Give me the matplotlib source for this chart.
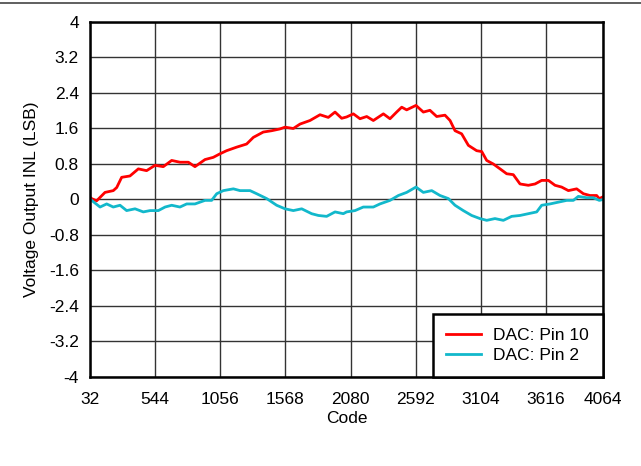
import numpy as np
import matplotlib
matplotlib.use("Agg")
import matplotlib.pyplot as plt
from matplotlib.lines import Line2D

plt.rcParams['font.family'] = ['Liberation Sans', 'DejaVu Sans']

# DAC: Pin 10 (red)
pin10_code = [32, 45, 84, 150, 215, 242, 281, 346, 412, 477, 543, 608, 674, 739, 805, 857,
              936, 1001, 1054, 1106, 1185, 1263, 1316, 1394, 1460, 1525, 1565, 1630, 1683,
              1761, 1840, 1905, 1958, 2010, 2049, 2102, 2154, 2207, 2259, 2338, 2390, 2442,
              2482, 2521, 2594, 2652, 2704, 2757, 2822, 2862, 2901, 2953, 3006, 3071, 3111,
              3150, 3202, 3255, 3307, 3359, 3412, 3477, 3530, 3582, 3635, 3687, 3739, 3792,
              3857, 3910, 3962, 4014, 4035, 4064]
pin10_inl = [0.05, 0.02, -0.03, 0.16, 0.20, 0.27, 0.50, 0.53, 0.69, 0.65, 0.77, 0.74, 0.88, 0.84,
             0.84, 0.74, 0.90, 0.95, 1.03, 1.10, 1.18, 1.25, 1.40, 1.52, 1.55, 1.59, 1.63, 1.60,
             1.70, 1.78, 1.91, 1.85, 1.97, 1.83, 1.86, 1.93, 1.82, 1.87, 1.78, 1.93, 1.82, 1.97,
             2.08, 2.02, 2.12, 1.97, 2.01, 1.87, 1.90, 1.78, 1.55, 1.48, 1.22, 1.10, 1.08, 0.88,
             0.80, 0.69, 0.58, 0.56, 0.35, 0.32, 0.35, 0.43, 0.43, 0.32, 0.28, 0.20, 0.24, 0.13,
             0.09, 0.09, 0.02, 0.06]

# DAC: Pin 2 (cyan)
pin2_code = [32, 45, 111, 163, 215, 268, 320, 386, 451, 504, 569, 622, 674, 739, 792, 857, 936,
             988, 1028, 1080, 1159, 1211, 1290, 1342, 1421, 1499, 1565, 1630, 1696, 1774, 1827,
             1892, 1958, 2023, 2049, 2115, 2180, 2259, 2311, 2390, 2456, 2521, 2594, 2652, 2718,
             2783, 2849, 2901, 2966, 3032, 3097, 3150, 3215, 3281, 3346, 3412, 3477, 3543, 3582,
             3648, 3713, 3779, 3831, 3870, 3936, 3988, 4035, 4064]
pin2_inl = [0.02, -0.02, -0.17, -0.10, -0.17, -0.13, -0.25, -0.21, -0.28, -0.25, -0.25, -0.17,
            -0.13, -0.17, -0.10, -0.10, -0.02, -0.02, 0.13, 0.20, 0.24, 0.20, 0.20, 0.13, 0.02,
            -0.13, -0.21, -0.25, -0.21, -0.32, -0.36, -0.38, -0.28, -0.32, -0.28, -0.25, -0.17,
            -0.17, -0.10, -0.02, 0.09, 0.16, 0.28, 0.16, 0.20, 0.09, 0.02, -0.13, -0.25, -0.36,
            -0.43, -0.47, -0.43, -0.47, -0.38, -0.36, -0.32, -0.28, -0.13, -0.10, -0.06, -0.02,
            -0.02, 0.07, 0.04, 0.04, -0.02, 0.0]

x_ticks = [32, 544, 1056, 1568, 2080, 2592, 3104, 3616, 4064]
y_ticks = [4, 3.2, 2.4, 1.6, 0.8, 0, -0.8, -1.6, -2.4, -3.2, -4]
y_labels = ["4", "3.2", "2.4", "1.6", "0.8", "0", "-0.8", "-1.6", "-2.4", "-3.2", "-4"]

fig = plt.figure(figsize=(6.41, 4.66), dpi=100)
ax = fig.add_axes([0.1404, 0.191, 0.8003, 0.7618])

ax.plot(pin10_code, pin10_inl, color="#ff0000", lw=2.0, label="DAC: Pin 10")
ax.plot(pin2_code, pin2_inl, color="#12b8cb", lw=2.0, label="DAC: Pin 2")

ax.set_xlim(32, 4064)
ax.set_ylim(-4, 4)
ax.set_xticks(x_ticks)
ax.set_yticks(y_ticks)
ax.set_yticklabels(y_labels)
ax.tick_params(length=0, labelsize=12.5)
ax.tick_params(axis="x", pad=11)
ax.tick_params(axis="y", pad=8)
ax.grid(True, color="#333333", lw=1.0)
for s in ax.spines.values():
    s.set_linewidth(1.8)
    s.set_color("black")

ax.set_xlabel("Code", fontsize=12.5, labelpad=3)
ax.set_ylabel("Voltage Output INL (LSB)", fontsize=12.5, labelpad=7)

leg = ax.legend(loc="lower right", fontsize=12.5, fancybox=False, framealpha=1,
                edgecolor="black", borderaxespad=0, handlelength=2.0,
                labelspacing=0.3, borderpad=0.8, handletextpad=0.7)
leg.get_frame().set_linewidth(1.8)

fig.add_artist(Line2D([0, 1], [0.993, 0.993], color="#444444", lw=1.2))

fig.savefig("out.png", dpi=100)
